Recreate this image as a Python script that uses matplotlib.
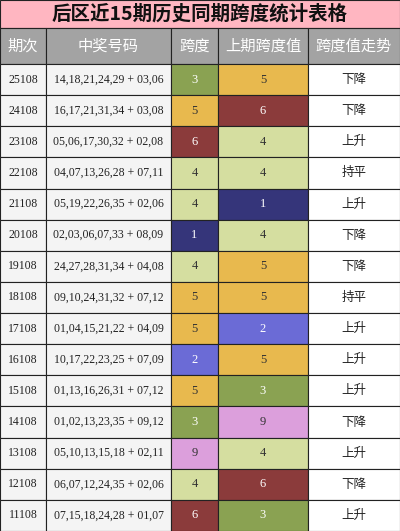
import matplotlib
matplotlib.use("Agg")
import matplotlib.pyplot as plt
from matplotlib.patches import Rectangle

plt.rcParams['font.family'] = ['Noto Sans CJK SC', 'DejaVu Sans']

# =====================================================
# Data
# =====================================================

title = "后区近15期历史同期跨度统计表格"
headers = ["期次", "中奖号码", "跨度", "上期跨度值", "跨度值走势"]

issues = ["25108", "24108", "23108", "22108", "21108", "20108", "19108", "18108",
          "17108", "16108", "15108", "14108", "13108", "12108", "11108"]
numbers = ["14,18,21,24,29 + 03,06", "16,17,21,31,34 + 03,08", "05,06,17,30,32 + 02,08",
           "04,07,13,26,28 + 07,11", "05,19,22,26,35 + 02,06", "02,03,06,07,33 + 08,09",
           "24,27,28,31,34 + 04,08", "09,10,24,31,32 + 07,12", "01,04,15,21,22 + 04,09",
           "10,17,22,23,25 + 07,09", "01,13,16,26,31 + 07,12", "01,02,13,23,35 + 09,12",
           "05,10,13,15,18 + 02,11", "06,07,12,24,35 + 02,06", "07,15,18,24,28 + 01,07"]
spans = [3, 5, 6, 4, 4, 1, 4, 5, 5, 2, 5, 3, 9, 4, 6]
prev_spans = [5, 6, 4, 4, 1, 4, 5, 5, 2, 5, 3, 9, 4, 6, 3]
trends = ["下降", "下降", "上升", "持平", "上升", "下降", "下降", "持平",
          "上升", "上升", "上升", "下降", "上升", "下降", "上升"]

# =====================================================
# Styles
# =====================================================

span_colors = {
    1: ("#35357a", "white"),
    2: ("#6b6bd6", "white"),
    3: ("#8aa252", "white"),
    4: ("#d5dea0", "#333333"),
    5: ("#e8b94e", "#333333"),
    6: ("#8b3b3b", "white"),
    9: ("#dc9fdc", "#333333"),
}

W, H = 400, 531
col_x = [0, 46, 171, 218, 308, 400]
title_h = 28
head_h = 36
row_h = (H - title_h - head_h) / len(issues)

fig = plt.figure(figsize=(W / 100, H / 100), dpi=100)
ax = fig.add_axes([0, 0, 1, 1])
ax.set_xlim(0, W)
ax.set_ylim(H, 0)
ax.axis("off")


def cell(x0, x1, y0, y1, fc, text, color, size=9, weight="normal", serif=False):
    ax.add_patch(Rectangle((x0, y0), x1 - x0, y1 - y0, facecolor=fc,
                           edgecolor="#222222", linewidth=0.8))
    fam = ["Liberation Serif", "Noto Sans CJK SC"] if serif else ["Noto Sans CJK SC", "DejaVu Sans"]
    ax.text((x0 + x1) / 2, (y0 + y1) / 2, text, ha="center", va="center",
            color=color, fontsize=size, fontweight=weight, family=fam)


# title
cell(0, W, 0, title_h, "#ffb6c1", title, "#111111", size=14, weight="bold")

# header
for i, h in enumerate(headers):
    cell(col_x[i], col_x[i + 1], title_h, title_h + head_h, "#a3a3a3", h, "white", size=11)

# rows
for r in range(len(issues)):
    y0 = title_h + head_h + r * row_h
    y1 = y0 + row_h
    cell(col_x[0], col_x[1], y0, y1, "#f4f4f4", issues[r], "#222222", size=8.5, serif=True)
    cell(col_x[1], col_x[2], y0, y1, "#f4f4f4", numbers[r], "#222222", size=8.5, serif=True)
    fc, tc = span_colors[spans[r]]
    cell(col_x[2], col_x[3], y0, y1, fc, str(spans[r]), tc, size=9, serif=True)
    fc, tc = span_colors[prev_spans[r]]
    cell(col_x[3], col_x[4], y0, y1, fc, str(prev_spans[r]), tc, size=9, serif=True)
    cell(col_x[4], col_x[5], y0, y1, "white", trends[r], "#222222", size=9)

fig.savefig("out.png", dpi=100)
